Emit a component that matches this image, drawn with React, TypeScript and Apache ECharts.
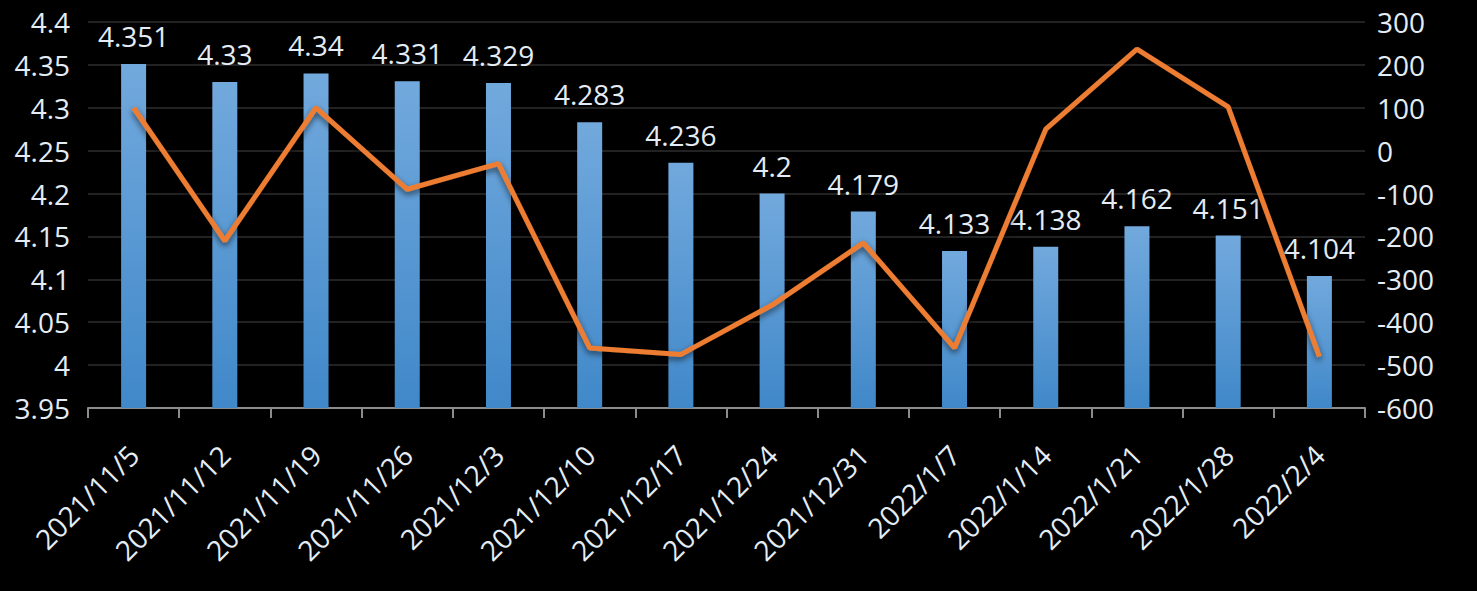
import React, { useEffect, useRef } from "react";
import * as echarts from "echarts";

const categories = [
  "2021/11/5", "2021/11/12", "2021/11/19", "2021/11/26", "2021/12/3", "2021/12/10", "2021/12/17",
  "2021/12/24", "2021/12/31", "2022/1/7", "2022/1/14", "2022/1/21", "2022/1/28", "2022/2/4",
];
const barValues = [4.351, 4.33, 4.34, 4.331, 4.329, 4.283, 4.236, 4.2, 4.179, 4.133, 4.138, 4.162, 4.151, 4.104];
const lineValues = [100, -210, 100, -90, -30, -460, -475, -360, -215, -460, 50, 237, 102, -480];

const textColor = "#e4ecf5";
const fontFamily = "'Open Sans', 'Noto Sans', sans-serif";

export default function App() {
  const ref = useRef<HTMLDivElement>(null);
  useEffect(() => {
    if (!ref.current) return;
    const chart = echarts.init(ref.current, null, { renderer: "svg" });
    chart.setOption({
      animation: false,
      backgroundColor: "#000000",
      grid: { left: 88, right: 112, top: 22, bottom: 183 },
      xAxis: {
        type: "category",
        data: categories,
        boundaryGap: true,
        axisLine: { onZero: false, lineStyle: { color: "#8c8c8c", width: 2 } },
        axisTick: { show: true, length: 10, lineStyle: { color: "#8c8c8c", width: 2 } },
        axisLabel: {
          rotate: 45,
          color: textColor,
          fontSize: 28,
          fontFamily,
          margin: 42,
          interval: 0,
        },
      },
      yAxis: [
        {
          type: "value",
          min: 3.95,
          max: 4.4,
          interval: 0.05,
          axisLine: { show: false },
          axisTick: { show: false },
          axisLabel: {
            color: textColor,
            fontSize: 28,
            fontFamily,
            margin: 18,
            formatter: (v: number) => String(parseFloat(v.toFixed(2))),
          },
          splitLine: { lineStyle: { color: "#2e2e2e", width: 1.5 } },
        },
        {
          type: "value",
          min: -600,
          max: 300,
          interval: 100,
          axisLine: { show: false },
          axisTick: { show: false },
          axisLabel: { color: textColor, fontSize: 28, fontFamily, margin: 12 },
          splitLine: { show: false },
        },
      ],
      series: [
        {
          type: "bar",
          data: barValues,
          yAxisIndex: 0,
          barWidth: 25,
          itemStyle: {
            color: new echarts.graphic.LinearGradient(0, 0, 0, 1, [
              { offset: 0, color: "#72a9dd" },
              { offset: 1, color: "#4088c9" },
            ]),
          },
          label: {
            show: true,
            position: "top",
            distance: 14,
            color: textColor,
            fontSize: 28,
            fontFamily,
          },
        },
        {
          type: "line",
          data: lineValues,
          yAxisIndex: 1,
          symbol: "none",
          lineStyle: {
            color: "#ed7d31",
            width: 5,
            shadowColor: "rgba(0,0,0,0.6)",
            shadowBlur: 6,
            shadowOffsetY: 3,
          },
          z: 3,
        },
      ],
    });
    return () => chart.dispose();
  }, []);
  return <div ref={ref} style={{ width: 1477, height: 591, position: "absolute", left: 0, top: 0 }} />;
}
